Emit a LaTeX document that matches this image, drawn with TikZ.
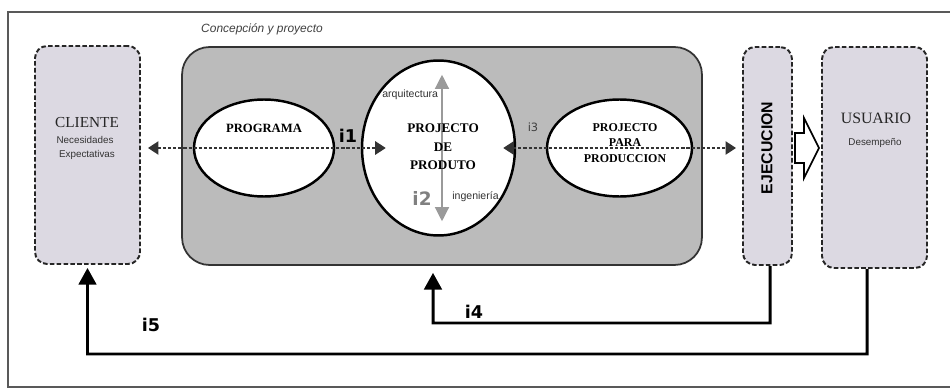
\documentclass[tikz,border=0pt]{standalone}
\usepackage{fontspec}
\setmainfont{Liberation Serif}
\newfontfamily\arialf{Liberation Sans}
\newfontfamily\dejavu{DejaVu Sans}
\usetikzlibrary{arrows.meta,shapes.geometric}
\definecolor{boxfill}{HTML}{DCD9E2}
\definecolor{panelfill}{HTML}{BBBBBB}
\definecolor{axisgray}{HTML}{9A9A9A}
\begin{document}
\begin{tikzpicture}[x=0.02cm,y=-0.02cm,
  dashbox/.style={draw=black!85, line width=1.1pt, dash pattern=on 2.6pt off 1.3pt,
    rounded corners=0.24cm, fill=boxfill, inner sep=0pt},
  panel/.style={draw=black!80, line width=1pt, rounded corners=0.55cm, fill=panelfill, inner sep=0pt},
  oval/.style={ellipse, draw=black, line width=1.4pt, fill=white, inner sep=0pt},
  dotlink/.style={draw=black!80, line width=1.2pt, dash pattern=on 1.8pt off 1.1pt,
    {Triangle[length=6pt,width=7.5pt]}-{Triangle[length=6pt,width=7.5pt]}},
  feedback/.style={draw=black, line width=1.7pt, -{Triangle[length=9.5pt,width=10pt]}},
  axis/.style={draw=axisgray, line width=0.7pt,
    {Triangle[length=8pt,width=8pt]}-{Triangle[length=8pt,width=8pt]}},
  titlecap/.style={font=\fontsize{8.7}{10}\selectfont, text=black!85, inner sep=0pt},
  ovaltext/.style={font=\bfseries\fontsize{7.2}{9}\selectfont, align=center, inner sep=0pt},
  note/.style={font=\arialf\fontsize{5.6}{7}\selectfont, text=black!80, inner sep=0pt},
  tag/.style={font=\dejavu\bfseries\fontsize{10}{12}\selectfont, inner sep=0pt},
]
\useasboundingbox (0,0) rectangle (950,392);
\fill[white] (0,0) rectangle (950,392);

% outer frame (its right side lies past the page edge)
\draw[black!65, line width=0.9pt] (8,12) rectangle (990,387);

% caption of the design phase
\node[font=\arialf\itshape\fontsize{6.8}{8}\selectfont, text=black!75, inner sep=0pt] (phase) at (262,29) {Concepción y proyecto};

% side boxes
\node[dashbox, minimum width=2.1cm, minimum height=4.36cm] (cliente) at (87.5,155) {};
\node[dashbox, minimum width=0.98cm, minimum height=4.36cm] (ejec) at (767.5,156) {};
\node[dashbox, minimum width=2.1cm, minimum height=4.42cm] (usuario) at (874.5,157.5) {};

% design panel
\node[panel, minimum width=10.4cm, minimum height=4.36cm] (panel) at (442,156) {};

% stages inside the panel
\node[oval, minimum width=2.8cm, minimum height=1.94cm] (prog) at (264,148) {};
\node[oval, minimum width=3.06cm, minimum height=3.5cm] (circ) at (438.5,148) {};
\node[oval, minimum width=2.9cm, minimum height=1.94cm] (prod) at (619.5,148) {};

% architecture / engineering axis
\draw[axis] ([xshift=0.07cm, yshift=-0.31cm]circ.north) -- ([xshift=0.07cm, yshift=0.31cm]circ.south);

% information flows along the row
\draw[dotlink, shorten <=0.14cm] (cliente.east |- prog.center) -- ([xshift=0.5cm]circ.west);
\draw[dotlink, shorten >=0.12cm] ([xshift=-0.26cm]circ.east) -- (ejec.west |- prod.center);

% texts
\node[titlecap] (tcli) at (87,123) {CLIENTE};
\node[note] (tnec) at (85,140) {Necesidades};
\node[note] (texp) at (87,155) {Expectativas};
\node[ovaltext] (tprog) at (264,128) {PROGRAMA};
\node[ovaltext, font=\bfseries\fontsize{7.5}{10.5}\selectfont] (tcirc) at (443,147) {PROJECTO\\DE\\PRODUTO};
\node[ovaltext, font=\bfseries\fontsize{6.8}{8.6}\selectfont] (tprod) at (625,143) {PROJECTO\\PARA\\PRODUCCION};
\node[titlecap, font=\fontsize{9}{10}\selectfont] (tusu) at (876,118) {USUARIO};
\node[note] (tdes) at (875,143) {Desempeño};
\node[font=\arialf\bfseries\fontsize{9}{10}\selectfont, rotate=90, inner sep=0pt] (tejec) at (767,148) {EJECUCION};
\node[note, font=\arialf\fontsize{6}{7}\selectfont, anchor=west] (tarq) at (382,95) {arquitectura};
\node[note, font=\arialf\fontsize{6}{7}\selectfont, anchor=west] (ting) at (452,197) {ingeniería};

% flow labels
\node[tag] (i1) at (348,136) {i1};
\node[tag, text=black!50, font=\dejavu\bfseries\fontsize{10.5}{12}\selectfont] (i2) at (422,198) {i2};
\node[font=\dejavu\fontsize{6.5}{8}\selectfont, text=black!75, inner sep=0pt] (i3) at (533,127) {i3};
\node[tag] (i4) at (474,312) {i4};
\node[tag] (i5) at (151,325) {i5};

% hand-over to the user
\draw[black, line width=1pt, fill=white, line join=miter]
  (795,133) -- (804,133) -- (804,118) -- (819,148) -- (804,178) -- (804,163) -- (795,163) -- cycle;

% feedback loops
\coordinate (i4turn) at (770,323);
\coordinate (i5turn) at (867,354);
\draw[feedback] ([xshift=0.05cm]ejec.south) -- (i4turn) -| ([xshift=-0.18cm, yshift=-0.14cm]panel.south);
\draw[feedback] ([xshift=-0.15cm]usuario.south) -- (i5turn) -| ([yshift=-0.06cm]cliente.south);
\end{tikzpicture}
\end{document}
